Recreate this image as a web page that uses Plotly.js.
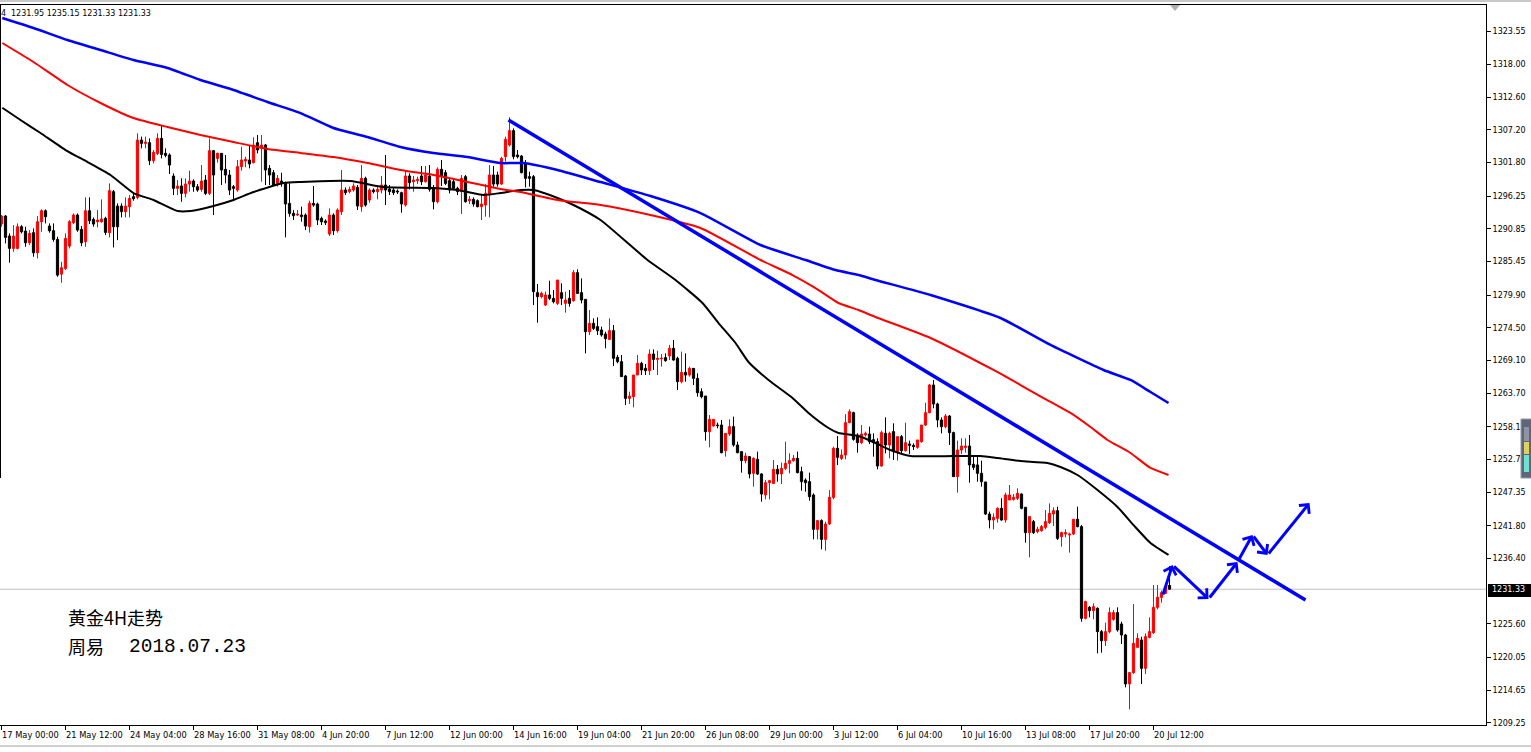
<!DOCTYPE html>
<html><head><meta charset="utf-8">
<script src="https://cdn.plot.ly/plotly-3.0.1.min.js"></script>
<style>html,body{margin:0;padding:0;background:#fff;overflow:hidden}#chart{width:1531px;height:752px}</style>
</head><body><div id="chart"></div>
<script>
// ---- OHLC data (4H bars, index 0 = 17 May 00:00) ----
const openP = [1291.66,1292.98,1289.68,1287.64,1287.64,1291.22,1290.50,1288.57,1290.23,1286.92,
1292.04,1293.86,1291.33,1290.56,1289.12,1283.39,1284.33,1288.02,1291.88,1293.15,
1290.78,1288.74,1293.86,1292.43,1292.04,1292.04,1292.60,1290.23,1297.00,1294.63,
1294.63,1293.70,1294.52,1296.18,1296.07,1305.54,1304.99,1305.10,1302.13,1303.34,
1305.82,1303.34,1303.07,1299.59,1297.56,1297.94,1296.73,1298.27,1298.77,1297.83,
1297.39,1298.93,1296.73,1303.78,1302.51,1303.34,1300.70,1299.76,1297.83,1297.28,
1301.14,1302.07,1302.24,1301.80,1305.10,1304.17,1304.72,1300.86,1300.14,1298.27,
1298.77,1298.38,1295.08,1293.42,1293.15,1293.15,1293.15,1291.23,1295.08,1294.97,
1292.60,1292.15,1290.01,1293.15,1290.56,1293.70,1297.28,1297.01,1297.28,1297.72,
1294.53,1299.21,1295.63,1297.28,1297.01,1297.28,1298.11,1297.45,1297.28,1297.12,
1296.84,1294.80,1299.60,1298.66,1298.83,1299.60,1298.66,1299.60,1297.56,1295.36,
1300.70,1300.15,1298.83,1298.66,1297.56,1297.01,1299.49,1295.52,1295.74,1295.52,
1294.53,1294.80,1296.46,1299.76,1299.76,1298.27,1302.79,1304.72,1307.09,1303.07,
1302.90,1301.69,1299.49,1299.49,1280.32,1279.66,1278.28,1279.94,1279.39,1278.56,
1280.32,1278.56,1279.39,1279.00,1283.63,1280.32,1279.22,1273.88,1275.26,1274.71,
1274.16,1273.49,1272.61,1274.05,1269.64,1268.92,1266.56,1262.87,1263.14,1266.72,
1268.65,1267.82,1267.44,1270.19,1269.31,1269.42,1269.59,1269.86,1271.13,1269.48,
1265.62,1267.16,1266.72,1267.82,1266.17,1263.97,1263.25,1257.36,1258.30,1258.46,
1258.46,1254.22,1256.97,1258.19,1255.16,1254.06,1252.57,1253.23,1250.48,1252.79,
1250.37,1246.90,1248.93,1248.82,1251.14,1250.37,1251.30,1252.13,1252.57,1252.95,
1250.75,1249.37,1249.10,1246.90,1241.22,1242.66,1239.57,1242.11,1246.51,1254.61,
1252.95,1253.50,1258.85,1260.50,1256.81,1255.54,1256.81,1256.97,1256.04,1255.71,
1251.69,1257.09,1255.16,1257.36,1254.06,1256.54,1254.22,1255.32,1255.10,1254.77,
1255.71,1258.46,1260.50,1265.07,1261.93,1259.29,1258.19,1259.95,1257.20,1249.93,
1254.33,1254.77,1254.99,1251.97,1251.86,1250.48,1249.05,1243.76,1242.77,1243.04,
1244.70,1242.77,1246.07,1246.18,1246.35,1247.06,1244.86,1240.68,1242.49,1240.84,
1241.01,1241.56,1242.33,1243.76,1244.31,1240.02,1240.46,1240.29,1240.46,1242.88,
1241.67,1226.52,1228.34,1227.79,1228.17,1224.32,1222.83,1224.32,1226.36,1227.46,
1225.59,1223.77,1215.68,1217.55,1221.73,1222.94,1218.26,1223.38,1224.15,1228.34,
1229.99,1230.65,1231.95];
const highP = [1293.15,1293.15,1290.12,1291.49,1291.77,1291.49,1291.22,1290.67,1290.94,1292.98,
1294.08,1294.08,1291.77,1291.77,1289.57,1285.43,1290.12,1292.32,1293.42,1293.42,
1291.33,1296.07,1296.07,1292.76,1293.97,1295.74,1292.87,1298.38,1297.28,1295.08,
1295.08,1296.07,1296.45,1296.62,1306.65,1306.10,1306.10,1305.82,1303.89,1306.65,
1308.02,1304.17,1303.34,1300.03,1298.93,1299.21,1299.21,1300.48,1299.04,1298.27,
1301.41,1299.76,1305.82,1303.89,1303.45,1303.34,1303.07,1300.59,1298.11,1302.24,
1304.44,1302.79,1304.55,1305.99,1306.37,1306.37,1304.88,1301.41,1300.59,1299.76,
1300.14,1298.66,1298.66,1293.97,1293.97,1294.53,1293.43,1295.52,1297.94,1295.19,
1292.88,1292.44,1294.25,1293.43,1294.25,1300.59,1297.72,1297.83,1298.38,1298.11,
1301.41,1299.49,1297.56,1297.56,1298.11,1299.60,1303.07,1298.11,1297.72,1297.39,
1297.01,1300.48,1300.04,1299.60,1299.49,1301.25,1301.25,1301.41,1298.11,1301.03,
1302.24,1300.59,1299.21,1298.94,1297.83,1299.76,1299.76,1296.29,1296.07,1295.74,
1296.46,1298.27,1301.41,1301.25,1300.31,1302.79,1306.09,1309.29,1307.47,1303.89,
1303.07,1302.24,1300.31,1299.76,1281.75,1280.49,1280.49,1282.30,1280.76,1282.41,
1281.86,1280.49,1280.76,1284.07,1284.18,1282.69,1279.22,1277.46,1276.08,1276.25,
1274.71,1273.88,1276.08,1274.98,1270.03,1270.03,1266.72,1263.97,1266.72,1270.03,
1268.92,1268.54,1270.96,1270.96,1270.74,1270.19,1270.30,1271.68,1272.50,1269.75,
1270.58,1270.30,1268.10,1267.82,1267.00,1264.52,1263.25,1260.11,1259.40,1258.85,
1259.29,1257.08,1259.40,1259.84,1255.71,1254.06,1253.89,1253.34,1253.12,1254.06,
1250.48,1249.37,1249.37,1252.68,1251.85,1252.24,1255.71,1253.78,1253.50,1254.06,
1251.58,1249.65,1250.59,1247.17,1242.77,1242.88,1242.49,1247.72,1254.88,1256.64,
1254.44,1260.28,1261.05,1260.66,1257.08,1258.46,1257.36,1258.19,1257.08,1256.26,
1257.53,1259.73,1257.36,1258.74,1256.54,1256.81,1258.85,1255.88,1255.43,1255.99,
1258.46,1262.15,1265.24,1265.90,1262.15,1259.73,1260.28,1260.12,1257.36,1255.88,
1256.26,1256.26,1256.81,1253.34,1253.34,1252.57,1249.05,1244.15,1243.87,1244.86,
1246.35,1247.28,1248.55,1247.06,1248.00,1247.17,1244.86,1243.32,1242.77,1241.67,
1241.94,1244.42,1245.52,1244.86,1244.97,1240.84,1241.23,1240.68,1242.88,1244.97,
1241.94,1229.44,1228.56,1229.00,1228.34,1224.60,1225.81,1228.34,1227.90,1228.34,
1225.97,1223.94,1217.55,1228.89,1224.05,1223.49,1224.05,1226.69,1232.03,1232.03,
1231.10,1232.30,1235.15];
const lowP = [1291.22,1288.46,1285.27,1287.08,1287.47,1290.12,1287.91,1288.19,1286.26,1285.98,
1290.39,1291.77,1290.23,1288.74,1282.95,1281.96,1284.06,1287.64,1291.66,1290.39,
1288.02,1287.91,1291.66,1291.22,1291.11,1291.88,1289.84,1289.46,1287.80,1289.01,
1292.76,1292.76,1292.76,1295.52,1295.74,1304.17,1304.17,1301.41,1301.69,1303.07,
1302.51,1302.68,1299.92,1296.45,1296.45,1295.35,1296.07,1297.00,1297.00,1297.00,
1297.00,1296.45,1296.45,1293.15,1301.80,1298.11,1298.38,1296.45,1295.74,1297.00,
1300.48,1301.03,1300.86,1301.69,1303.34,1298.66,1298.11,1298.11,1297.94,1297.83,
1297.83,1289.46,1292.87,1292.32,1292.98,1292.05,1290.67,1290.23,1294.53,1291.50,
1291.50,1291.50,1289.68,1289.85,1290.23,1293.15,1296.46,1296.73,1297.01,1293.98,
1293.70,1294.53,1295.19,1296.73,1295.74,1296.73,1294.80,1296.46,1296.46,1296.62,
1293.54,1294.53,1297.39,1297.01,1298.27,1298.11,1298.50,1297.01,1294.09,1295.08,
1297.94,1298.11,1296.73,1297.28,1296.46,1293.32,1295.19,1294.97,1294.53,1294.42,
1292.33,1292.88,1292.77,1297.83,1297.83,1298.11,1301.96,1304.44,1302.35,1302.51,
1300.04,1297.72,1297.83,1278.28,1275.37,1279.39,1278.12,1279.11,1278.56,1278.28,
1278.28,1277.02,1278.01,1278.83,1280.10,1278.56,1270.30,1273.33,1274.16,1273.33,
1273.05,1271.13,1272.50,1268.21,1268.65,1266.45,1261.77,1261.93,1261.38,1266.72,
1266.72,1266.72,1266.72,1267.55,1266.72,1268.10,1268.92,1269.20,1269.09,1264.24,
1265.35,1265.62,1266.45,1265.07,1263.14,1262.87,1255.87,1254.77,1258.19,1257.91,
1253.78,1253.23,1256.64,1254.88,1253.78,1250.59,1252.13,1249.65,1248.27,1250.20,
1245.79,1246.18,1246.18,1248.71,1249.10,1248.71,1251.03,1250.48,1252.40,1250.48,
1247.61,1247.45,1245.96,1239.57,1239.57,1237.92,1237.70,1241.94,1246.18,1251.85,
1252.68,1252.79,1258.74,1255.87,1253.89,1255.32,1256.53,1255.32,1253.23,1251.14,
1251.58,1253.78,1252.96,1252.68,1252.57,1253.78,1254.06,1253.67,1254.33,1254.55,
1255.54,1258.30,1260.39,1261.22,1258.08,1257.09,1257.91,1255.16,1249.93,1247.28,
1253.67,1253.89,1248.94,1251.03,1249.10,1248.28,1243.60,1241.39,1241.23,1242.33,
1242.66,1242.33,1246.07,1245.96,1246.07,1244.53,1239.02,1236.60,1240.46,1240.57,
1240.84,1241.23,1242.11,1241.78,1239.46,1238.36,1239.91,1237.37,1240.29,1241.56,
1225.97,1226.36,1226.69,1226.36,1220.74,1220.85,1221.95,1224.05,1226.14,1224.32,
1222.28,1215.12,1211.49,1217.33,1221.73,1215.68,1217.33,1223.22,1223.94,1228.01,
1229.11,1230.54,1231.33];
const closeP = [1292.98,1289.46,1287.64,1289.68,1291.22,1290.39,1288.57,1290.12,1286.92,1292.04,
1293.86,1292.87,1290.56,1289.12,1283.23,1284.44,1289.29,1292.04,1293.15,1290.67,
1288.57,1293.86,1292.21,1291.66,1292.32,1292.49,1290.28,1297.17,1291.22,1291.22,
1293.70,1294.63,1295.90,1295.85,1305.54,1304.99,1305.21,1302.13,1303.51,1305.82,
1303.17,1303.01,1301.41,1297.56,1297.94,1296.73,1298.27,1298.77,1297.83,1297.28,
1298.77,1296.73,1303.78,1299.76,1303.34,1300.59,1299.76,1297.28,1297.56,1301.14,
1302.24,1302.35,1301.58,1304.72,1303.89,1304.72,1300.59,1299.76,1298.11,1299.21,
1298.38,1294.97,1293.42,1293.04,1293.31,1292.88,1291.34,1295.08,1294.80,1292.33,
1292.05,1291.89,1293.15,1290.56,1293.98,1297.28,1296.84,1297.39,1297.94,1294.64,
1299.21,1294.80,1297.28,1297.01,1297.39,1298.11,1297.28,1297.01,1296.84,1296.95,
1294.97,1299.60,1298.50,1298.94,1299.05,1298.66,1299.76,1297.39,1295.36,1300.70,
1299.60,1298.38,1297.28,1297.56,1297.01,1299.21,1295.36,1295.74,1294.97,1294.53,
1294.97,1296.73,1299.76,1298.27,1298.27,1302.51,1305.65,1307.09,1302.79,1302.79,
1300.15,1299.21,1299.21,1280.49,1279.66,1280.21,1279.94,1279.39,1278.83,1282.41,
1279.39,1279.11,1278.56,1283.63,1280.21,1279.11,1273.88,1275.26,1274.43,1274.05,
1273.33,1272.72,1274.05,1269.48,1268.92,1266.45,1262.87,1263.25,1266.72,1268.65,
1267.55,1267.44,1270.19,1269.31,1269.48,1269.53,1269.09,1271.13,1269.20,1265.62,
1267.16,1266.72,1267.82,1266.17,1263.80,1263.14,1257.36,1259.40,1259.40,1258.35,
1253.89,1257.08,1258.19,1255.16,1253.89,1252.57,1253.34,1250.37,1252.95,1250.37,
1247.06,1248.93,1249.26,1251.14,1250.37,1251.30,1252.13,1252.57,1252.95,1250.59,
1249.10,1248.93,1246.62,1241.22,1242.66,1239.57,1242.11,1246.51,1254.61,1253.12,
1253.50,1258.85,1260.66,1256.09,1255.54,1256.97,1257.08,1255.71,1255.54,1251.69,
1257.20,1255.16,1257.09,1254.06,1256.54,1254.22,1255.54,1255.10,1254.88,1255.99,
1258.46,1260.50,1265.07,1261.93,1259.29,1258.19,1259.95,1257.20,1249.93,1254.33,
1254.99,1254.99,1251.86,1251.47,1250.48,1249.10,1243.76,1242.77,1243.21,1244.70,
1242.77,1246.90,1246.90,1246.51,1247.17,1244.70,1240.68,1243.32,1240.68,1241.23,
1241.67,1242.49,1243.87,1244.31,1239.74,1240.68,1240.68,1240.46,1242.88,1241.67,
1226.52,1229.28,1227.79,1228.45,1224.32,1222.83,1224.32,1227.46,1227.46,1224.60,
1223.77,1215.68,1217.55,1222.39,1223.22,1218.26,1223.49,1224.32,1228.34,1229.99,
1230.76,1231.76,1231.33];

// ---- moving averages (bar index, price) ----
const blackMaX = [0.2,4.75,9.75,16,21.5,27.25,33,38,44,47.25,53,58,63,70.5,74.75,87.25,95.5,108,114,120.5,124.75,129.75,133,139,143,149.75,161.5,168.5,175.25,179.25,183.5,186.75,191.75,197.75,201.75,206.75,209.25,214.25,218.5,222.25,227.25,238,244.75,249,254.75,261.5,264.75,269,274,279,283,287.25,291.75];
const blackMaY = [1310.88,1308.85,1306.70,1303.89,1301.91,1299.76,1296.79,1295.63,1293.81,1293.81,1294.64,1295.63,1296.95,1298.44,1298.61,1298.77,1297.78,1297.61,1297.28,1296.46,1296.79,1297.28,1297.28,1295.96,1294.81,1292.33,1285.72,1282.42,1278.62,1275.31,1272.01,1268.87,1265.90,1262.92,1260.45,1257.97,1257.14,1256.65,1255.49,1254.33,1253.34,1253.34,1253.34,1253.01,1252.51,1252.18,1251.52,1250.20,1247.72,1244.92,1241.94,1238.97,1236.99];
const redMaX = [0.2,8,16.5,24.75,33,41.5,49.75,58,66.5,74.75,83,91.5,99.75,108,116.5,124.75,129.75,139,149.75,162.25,174.75,189.75,197.75,203.5,209.25,214.25,218.5,232.25,248,254.75,260.5,267.25,272.25,276.5,282.25,287.25,291.75];
const redMaY = [1321.57,1318.43,1314.63,1311.66,1309.18,1307.69,1306.37,1305.21,1304.06,1303.40,1302.74,1301.74,1300.59,1299.76,1298.61,1297.45,1296.95,1295.63,1294.81,1293.15,1291.01,1285.72,1283.24,1281.09,1278.62,1277.46,1276.30,1272.84,1267.55,1265.07,1262.92,1260.45,1258.13,1255.99,1253.84,1251.36,1250.20];
const blueMaX = [0.2,8,16.5,24.75,33,41.5,49.75,58,66.5,74.75,83,91.5,99.75,108,116.5,124.75,130.5,139,149.75,162.25,174.75,189.75,201,208.5,214.25,218.5,232.25,249.75,262.25,275.5,282.25,287.25,291.75];
const blueMaY = [1325.70,1324.05,1322.06,1320.41,1318.76,1317.44,1315.46,1313.80,1311.82,1310.00,1307.53,1306.04,1304.39,1303.40,1302.74,1301.74,1301.74,1300.59,1298.61,1296.29,1293.48,1288.20,1285.72,1284.07,1283.24,1282.42,1279.94,1276.14,1271.68,1267.55,1265.90,1263.91,1262.10];

// ---- drawn trend line and projected path ----
const trendX = [126.75, 326];
const trendY = [1308.85, 1229.55];
const arrowX = [290.25, 292.75, 301.75, 309, 312.75, 316.5, 327];
const arrowY = [1230.2, 1235.33, 1229.72, 1235.83, 1240.29, 1236.99, 1245.58];

// ---- axes ----
const tickBars = [0,16,32,48,64,80,96,112,128,144,160,176,192,208,224,240,256,272,288];
const tickLabels = ["17 May 00:00","21 May 12:00","24 May 04:00","28 May 16:00","31 May 08:00","4 Jun 20:00","7 Jun 12:00","12 Jun 00:00","14 Jun 16:00","19 Jun 04:00","21 Jun 20:00","26 Jun 08:00","29 Jun 00:00","3 Jul 12:00","6 Jul 04:00","10 Jul 16:00","13 Jul 08:00","17 Jul 20:00","20 Jul 12:00"];
const priceTicks = [1323.55,1318.00,1312.60,1307.20,1301.80,1296.25,1290.85,1285.45,1279.90,1274.50,1269.10,1263.70,1258.15,1252.75,1247.35,1241.80,1236.40,1225.60,1220.05,1214.65,1209.25];
const lastPrice = 1231.33;
const headerText = "1231.95 1235.15 1231.33 1231.33";
const titleLine1 = "黄金4H走势";
const titleLine2a = "周易";
const titleLine2b = "2018.07.23";

const W = 1531, H = 752, ML = 0, MR = 45, MT = 5, MB = 27;
const PW = W - ML - MR, PH = H - MT - MB;
const px = X => (X - ML) / PW;
const py = Y => (H - MB - Y) / PH;

const n = closeP.length;
function candleTraces(up, color){
  const wx=[], wy=[], bx=[], by=[], bb=[];
  for(let i=0;i<n;i++){
    const isUp = closeP[i] >= openP[i];
    if(isUp !== up) continue;
    wx.push(i,i,null); wy.push(lowP[i],highP[i],null);
    bx.push(i);
    bb.push(Math.min(openP[i],closeP[i]));
    by.push(Math.max(Math.abs(closeP[i]-openP[i]),0.06));
  }
  return [
    {type:'scatter',mode:'lines',x:wx,y:wy,line:{color:color,width:1},hoverinfo:'skip',connectgaps:false},
    {type:'bar',x:bx,y:by,base:bb,width:0.55,marker:{color:color,line:{color:color,width:1}},hoverinfo:'skip'}
  ];
}

const traces = [
  ...candleTraces(true,'#ff0000'),
  ...candleTraces(false,'#000000'),
  {type:'scatter',mode:'lines',x:blackMaX,y:blackMaY,line:{color:'#000000',width:2,shape:'spline',smoothing:0.5},hoverinfo:'skip'},
  {type:'scatter',mode:'lines',x:redMaX,y:redMaY,line:{color:'#ff0000',width:2,shape:'spline',smoothing:0.5},hoverinfo:'skip'},
  {type:'scatter',mode:'lines',x:blueMaX,y:blueMaY,line:{color:'#0000ff',width:2.5,shape:'spline',smoothing:0.5},hoverinfo:'skip'},
  {type:'scatter',mode:'lines',x:trendX,y:trendY,line:{color:'#0000ff',width:3.5},hoverinfo:'skip'}
];

const annotations = [];
// x-axis labels, left-aligned at the tick as in the terminal
tickBars.forEach((b,k)=>{
  annotations.push({x:b,xref:'x',y:0,yref:'paper',yanchor:'top',xanchor:'left',xshift:-2,yshift:-3,
    text:tickLabels[k],showarrow:false,font:{family:'DejaVu Sans',size:8.3,color:'#000'}});
});
// projected path arrows
for(let k=1;k<arrowX.length;k++){
  annotations.push({x:arrowX[k],y:arrowY[k],xref:'x',yref:'y',ax:arrowX[k-1],ay:arrowY[k-1],axref:'x',ayref:'y',
    text:'',showarrow:true,arrowhead:4,arrowsize:0.85,arrowwidth:3,arrowcolor:'#0000ff',standoff:0,startstandoff:0});
}
annotations.push(
  {x:px(0),xref:'paper',y:py(14),yref:'paper',xanchor:'left',yanchor:'middle',text:'4',showarrow:false,
   font:{family:'DejaVu Sans',size:8,color:'#000'},borderpad:0},
  {x:px(10),xref:'paper',y:py(14),yref:'paper',xanchor:'left',yanchor:'middle',text:headerText,showarrow:false,
   font:{family:'DejaVu Sans',size:8,color:'#000'},borderpad:0},
  {x:px(67),xref:'paper',y:py(617),yref:'paper',xanchor:'left',yanchor:'middle',text:titleLine1,showarrow:false,
   font:{family:'Noto Sans CJK SC',size:18,color:'#000'},borderpad:0},
  {x:px(67),xref:'paper',y:py(646),yref:'paper',xanchor:'left',yanchor:'middle',text:titleLine2a,showarrow:false,
   font:{family:'Noto Sans CJK SC',size:18,color:'#000'},borderpad:0},
  {x:px(128),xref:'paper',y:py(647),yref:'paper',xanchor:'left',yanchor:'middle',text:titleLine2b,showarrow:false,
   font:{family:'Liberation Mono',size:19.5,color:'#000'},borderpad:0},
  {x:px(1491),xref:'paper',y:lastPrice,yref:'y',xanchor:'left',yanchor:'middle',text:lastPrice.toFixed(2),showarrow:false,
   font:{family:'DejaVu Sans',size:8,color:'#fff'},borderpad:0}
);

const shapes = [
  {type:'line',xref:'paper',yref:'y',x0:0,x1:1,y0:lastPrice,y1:lastPrice,line:{color:'#c0c0c0',width:1},layer:'below'},
  {type:'rect',xref:'paper',yref:'paper',x0:px(1488),x1:px(1531),y0:py(597),y1:py(584),fillcolor:'#000',line:{width:0}},
  {type:'line',xref:'paper',yref:'paper',x0:px(0.5),x1:px(0.5),y0:1,y1:py(478),line:{color:'#000',width:1}},
  {type:'line',xref:'paper',yref:'paper',x0:0,x1:px(1531),y0:py(1),y1:py(1),line:{color:'#c8c8c8',width:2}},
  {type:'line',xref:'paper',yref:'paper',x0:0,x1:px(1531),y0:py(746),y1:py(746),line:{color:'#a0a0a0',width:1}},
  {type:'path',xref:'paper',yref:'paper',path:`M ${px(1170)},${py(5)} L ${px(1180)},${py(5)} L ${px(1175)},${py(11)} Z`,fillcolor:'#b0b0b0',line:{width:0}},
  {type:'rect',xref:'paper',yref:'paper',x0:px(1521),x1:px(1532),y0:py(478),y1:py(419),fillcolor:'#5e6678',line:{color:'#9098a8',width:1}},
  {type:'rect',xref:'paper',yref:'paper',x0:px(1524),x1:px(1529),y0:py(441),y1:py(427),fillcolor:'#8c94a4',line:{width:0}},
  {type:'rect',xref:'paper',yref:'paper',x0:px(1524),x1:px(1529),y0:py(454),y1:py(442),fillcolor:'#e0d060',line:{width:0}},
  {type:'rect',xref:'paper',yref:'paper',x0:px(1524),x1:px(1529),y0:py(472),y1:py(455),fillcolor:'#70e0d0',line:{width:0}}
];

const layout = {
  width:W, height:H,
  margin:{l:ML,r:MR,t:MT,b:MB,pad:0},
  paper_bgcolor:'#ffffff', plot_bgcolor:'#ffffff',
  showlegend:false, barmode:'overlay', hovermode:false,
  xaxis:{range:[-0.375,371.125],showgrid:false,zeroline:false,tickvals:tickBars,showticklabels:false,
    ticks:'outside',ticklen:4,tickcolor:'#000',tickwidth:1,showline:true,linecolor:'#000',linewidth:1,mirror:true,fixedrange:true},
  yaxis:{side:'right',range:[1208.90,1327.85],showgrid:false,zeroline:false,tickvals:priceTicks,
    ticktext:priceTicks.map(v=>v.toFixed(2)),ticks:'outside',ticklen:4,tickcolor:'#000',tickwidth:1,
    showline:true,linecolor:'#000',linewidth:1,tickfont:{family:'DejaVu Sans',size:8,color:'#000'},fixedrange:true},
  shapes:shapes, annotations:annotations
};

Plotly.newPlot('chart', traces, layout, {staticPlot:true, displayModeBar:false});
</script>
</body></html>
